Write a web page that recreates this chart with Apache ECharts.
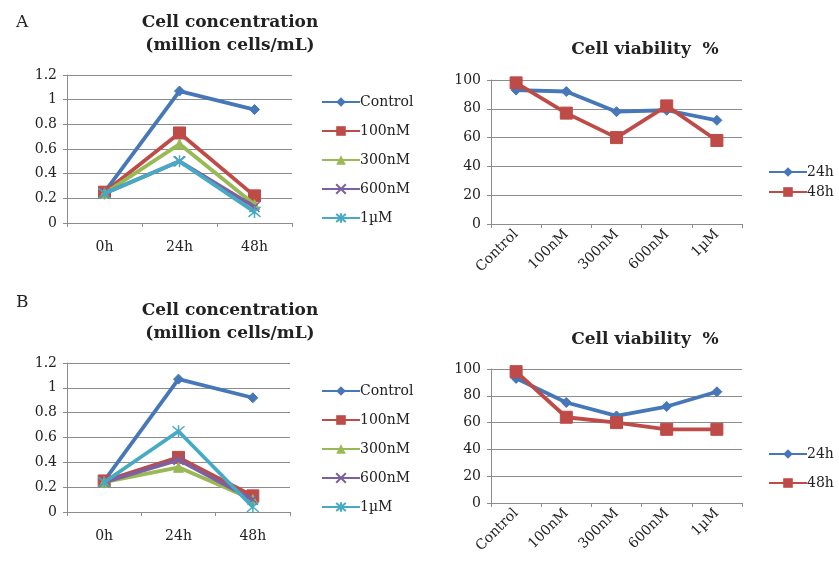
<!DOCTYPE html>
<html><head><meta charset="utf-8">
<script src="https://cdn.jsdelivr.net/npm/echarts@6/dist/echarts.min.js"></script>
<style>html,body{margin:0;padding:0;background:#fff}#c{width:839px;height:569px}</style>
</head><body><div id="c"></div>
<script>
// ---- data ----
const timeCats = ['0h', '24h', '48h'];
const doseCats = ['Control', '100nM', '300nM', '600nM', '1µM'];
const concNames = ['Control', '100nM', '300nM', '600nM', '1µM'];
const viaNames = ['24h', '48h'];
const concTicks = [0, 0.2, 0.4, 0.6, 0.8, 1, 1.2];
const viaTicks = [0, 20, 40, 60, 80, 100];

const concA_Control = [0.25, 1.07, 0.92];
const concA_100nM   = [0.25, 0.73, 0.22];
const concA_300nM   = [0.24, 0.64, 0.15];
const concA_600nM   = [0.24, 0.50, 0.13];
const concA_1uM     = [0.24, 0.50, 0.09];

const viaA_24h = [93, 92, 78, 79, 72];
const viaA_48h = [98, 77, 60, 82, 58];

const concB_Control = [0.25, 1.07, 0.92];
const concB_100nM   = [0.25, 0.44, 0.13];
const concB_300nM   = [0.24, 0.36, 0.10];
const concB_600nM   = [0.24, 0.42, 0.10];
const concB_1uM     = [0.24, 0.65, 0.04];

const viaB_24h = [93, 75, 65, 72, 83];
const viaB_48h = [98, 64, 60, 55, 55];

// ---- styling ----
const FONT = 'DejaVu Serif';
const colors = ['#4677B8', '#BE4B48', '#98B954', '#7D60A0', '#46AAC5'];
const xPath = 'path://M0,0L10,10M10,0L0,10';
const starPath = 'path://M0,0L10,10M10,0L0,10M5,-1L5,11';
const symbols = ['diamond', 'rect', 'triangle', xPath, starPath];
const symSizes = [10, 12, 10, 10, 12];

const grids = [
  {left: 67, top: 75, width: 225, height: 148},
  {left: 491, top: 80, width: 251, height: 144},
  {left: 67, top: 363, width: 223, height: 149},
  {left: 491, top: 369, width: 251, height: 134}
];

function xAxis(idx, cats, rotate) {
  return {
    type: 'category', gridIndex: idx, data: cats, boundaryGap: true,
    axisLine: {lineStyle: {color: '#8c8c8c', width: 1}},
    axisTick: {show: true, length: 4, interval: 0, lineStyle: {color: '#8c8c8c'}},
    axisLabel: {interval: 0, rotate: rotate, margin: rotate ? 8 : 17,
      fontFamily: FONT, fontSize: 14, color: '#222'}
  };
}
function yAxis(idx, ticks, dec) {
  return {
    type: 'value', gridIndex: idx, min: ticks[0], max: ticks[ticks.length - 1],
    interval: ticks[1] - ticks[0],
    axisLine: {show: true, lineStyle: {color: '#8c8c8c'}},
    axisTick: {show: true, length: 4, lineStyle: {color: '#8c8c8c'}},
    splitLine: {lineStyle: {color: '#8c8c8c', width: 1}},
    axisLabel: {fontFamily: FONT, fontSize: 14, color: '#222', margin: 10,
      formatter: v => dec ? String(Math.round(v * 10) / 10) : String(v)}
  };
}
function lineSeries(name, data, idx, ci) {
  const isStroke = ci >= 3;
  return {
    type: 'line', name: name, data: data, xAxisIndex: idx, yAxisIndex: idx,
    symbol: symbols[ci], symbolSize: symSizes[ci], showAllSymbol: true,
    lineStyle: {color: colors[ci], width: 3.8},
    itemStyle: isStroke ? {color: 'rgba(0,0,0,0)', borderColor: colors[ci], borderWidth: 1.5}
                        : {color: colors[ci], borderColor: colors[ci]},
    emphasis: {disabled: true}, animation: false, z: 2 + ci
  };
}
function legend(names, left, top, gap) {
  return {
    orient: 'vertical', left: left, top: top, itemGap: gap, itemWidth: 38, itemHeight: 12,
    data: names,
    textStyle: {fontFamily: FONT, fontSize: 14, color: '#222', padding: [0, 0, 0, -5]},
    selectedMode: false
  };
}

const concSetsA = [concA_Control, concA_100nM, concA_300nM, concA_600nM, concA_1uM];
const concSetsB = [concB_Control, concB_100nM, concB_300nM, concB_600nM, concB_1uM];

const series = [];
concSetsA.forEach((d, i) => series.push(lineSeries(concNames[i], d, 0, i)));
series.push(lineSeries(viaNames[0], viaA_24h, 1, 0));
series.push(lineSeries(viaNames[1], viaA_48h, 1, 1));
concSetsB.forEach((d, i) => series.push(lineSeries(concNames[i], d, 2, i)));
series.push(lineSeries(viaNames[0], viaB_24h, 3, 0));
series.push(lineSeries(viaNames[1], viaB_48h, 3, 1));

const titleStyle = {fontFamily: FONT, fontSize: 17, fontWeight: 'bold', color: '#222', lineHeight: 23, align: 'center'};
const letterStyle = {fontFamily: FONT, fontSize: 17, fontWeight: 'normal', color: '#222'};

const option = {
  backgroundColor: '#fff',
  animation: false,
  title: [
    {text: 'A', left: 11, top: 9, textStyle: letterStyle},
    {text: 'B', left: 11, top: 289, textStyle: letterStyle},
    {text: 'Cell concentration\n(million cells/mL)', left: 225, top: 6, textAlign: 'center', textStyle: titleStyle},
    {text: 'Cell concentration\n(million cells/mL)', left: 225, top: 294, textAlign: 'center', textStyle: titleStyle},
    {text: 'Cell viability  %', left: 640, top: 33, textAlign: 'center', textStyle: titleStyle},
    {text: 'Cell viability  %', left: 640, top: 323, textAlign: 'center', textStyle: titleStyle}
  ],
  legend: [
    legend(concNames, 316, 90, 15),
    legend(viaNames, 763, 160, 6),
    legend(concNames, 316, 379, 15),
    legend(viaNames, 763, 442, 15)
  ],
  grid: grids,
  xAxis: [xAxis(0, timeCats, 0), xAxis(1, doseCats, 45), xAxis(2, timeCats, 0), xAxis(3, doseCats, 45)],
  yAxis: [yAxis(0, concTicks, true), yAxis(1, viaTicks, false), yAxis(2, concTicks, true), yAxis(3, viaTicks, false)],
  series: series
};

const chart = echarts.init(document.getElementById('c'), null, {renderer: 'canvas'});
chart.setOption(option);
</script>
</body></html>
